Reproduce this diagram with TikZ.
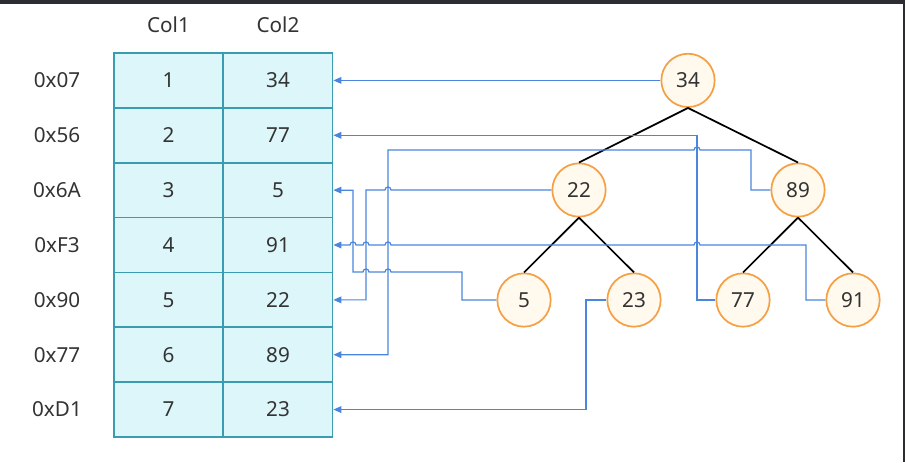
\documentclass[tikz,border=0pt]{standalone}
\usepackage{fontspec}
\setmainfont{Noto Sans}
\usetikzlibrary{arrows.meta}
\definecolor{cellfill}{HTML}{DDF6FA}
\definecolor{cellline}{HTML}{3A9CB0}
\definecolor{nodefill}{HTML}{FFF9EE}
\definecolor{nodeline}{HTML}{F6A045}
\definecolor{connblue}{HTML}{4A86DE}
\definecolor{txt}{HTML}{333333}
\definecolor{topbar}{HTML}{2B2D31}
\begin{document}
\begin{tikzpicture}[x=0.75pt,y=-0.75pt,
  cell/.style={draw=cellline,fill=cellfill,line width=1.3pt,minimum width=81.75pt,minimum height=41.14pt,inner sep=0pt,text=txt,font=\fontsize{15.5}{18}\selectfont},
  addr/.style={text=txt,font=\fontsize{15.5}{18}\selectfont},
  tnode/.style={circle,draw=nodeline,fill=nodefill,line width=1.3pt,minimum size=40pt,inner sep=0pt,text=txt,font=\fontsize{15.5}{18}\selectfont},
  edge/.style={black,line width=1.3pt},
  conn/.style={connblue,line width=0.9pt,-{Triangle[length=6pt,width=5pt]}}]
\useasboundingbox (0,0) rectangle (905,462);
\fill[white] (0,0) rectangle (905,462);
\fill[topbar] (0,0) rectangle (905,4);
\fill[topbar] (903,0) rectangle (905,462);
% headers
\node[addr] (h1) at (168.5,25) {Col1};
\node[addr] (h2) at (278,25) {Col2};
% table
\foreach \i/\a/\v in {1/0x07/34,2/0x56/77,3/0x6A/5,4/0xF3/91,5/0x90/22,6/0x77/89,7/0xD1/23}{
  \node[addr] (a\i) at (57,{53+54.857*(\i-0.5)}) {\a};
  \node[cell] (ca\i) at (168.5,{53+54.857*(\i-0.5)}) {\i};
  \node[cell] (cb\i) at (278,{53+54.857*(\i-0.5)}) {\v};
}
% tree
\node[tnode] (n34) at (688,80.4) {34};
\node[tnode] (n22) at (579,190) {22};
\node[tnode] (n89) at (798,190) {89};
\node[tnode] (n5) at (524,300) {5};
\node[tnode] (n23) at (634,300) {23};
\node[tnode] (n77) at (743,300) {77};
\node[tnode] (n91) at (853,300) {91};
\draw[edge] (n34.south) -- (n22.north);
\draw[edge] (n34.south) -- (n89.north);
\draw[edge] (n22.south) -- (n5.north);
\draw[edge] (n22.south) -- (n23.north);
\draw[edge] (n89.south) -- (n77.north);
\draw[edge] (n89.south) -- (n91.north);
% connectors
\draw[conn] (n34.west) -- (n34.west -| cb1.east);
\draw[conn] (n77.west) -- (697,300) |- (cb2.east);
\draw[conn] (n22.west) -- (391,190) .. controls (391,186) and (385,186) .. (385,190) -- (366,190) |- (cb5.east);
\draw[conn] (n89.west) -- (751,190) -- (751,150) -- (700,150) .. controls (700,146) and (694,146) .. (694,150) -- (388,150) |- (cb6.east);
\draw[conn] (n5.west) -- (462,300) -- (462,272) -- (391,272) .. controls (391,268) and (385,268) .. (385,272) -- (369,272) .. controls (369,268) and (363,268) .. (363,272) -- (353,272) |- (cb3.east);
\draw[conn] (n91.west) -- (806,300) -- (806,245) -- (700,245) .. controls (700,241) and (694,241) .. (694,245) -- (391,245) .. controls (391,241) and (385,241) .. (385,245) -- (369,245) .. controls (369,241) and (363,241) .. (363,245) -- (356,245) .. controls (356,241) and (350,241) .. (350,245) -- (cb4.east);
\draw[conn] (n23.west) -- (586,300) |- (cb7.east);
\end{tikzpicture}
\end{document}
